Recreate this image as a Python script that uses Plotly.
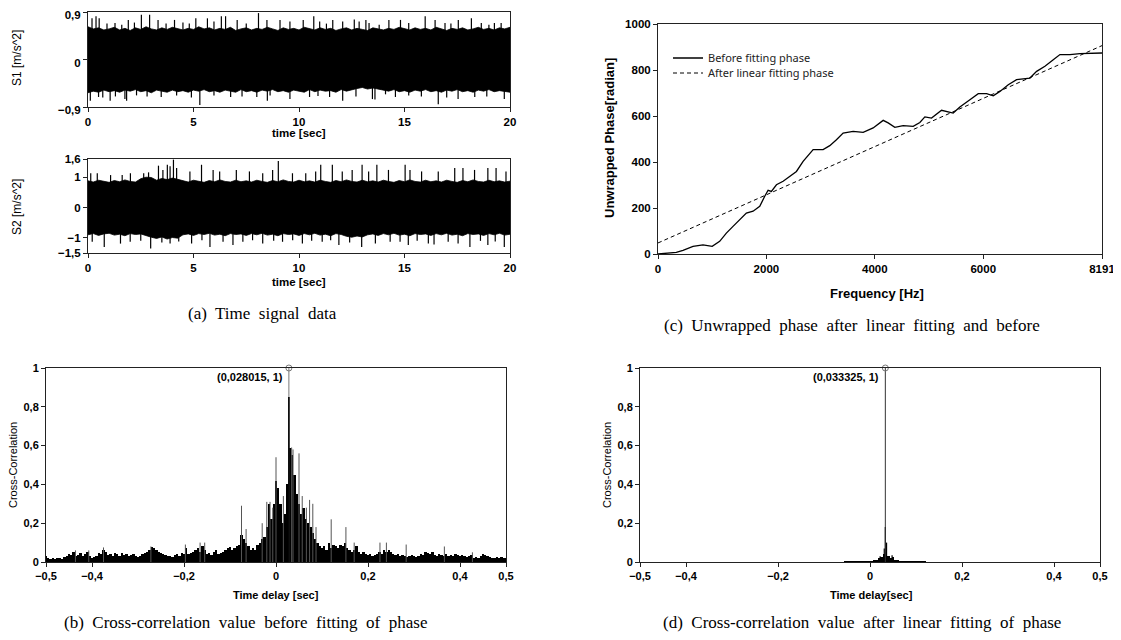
import numpy as np
import plotly.graph_objects as go

# ---------------- data ----------------
# (a) time signals: envelope sampled every 0.25 s plus individual peaks
sig_t = [i * 0.25 for i in range(81)]
s1_upper = [0.62,0.58,0.60,0.56,0.58,0.61,0.56,0.59,0.55,0.60,0.57,0.62,0.58,0.56,0.60,0.57,0.61,0.58,0.56,0.59,
            0.57,0.62,0.58,0.60,0.56,0.59,0.57,0.61,0.55,0.58,0.60,0.56,0.59,0.57,0.61,0.58,0.55,0.60,0.57,0.59,
            0.56,0.61,0.58,0.56,0.60,0.57,0.59,0.55,0.58,0.60,0.56,0.59,0.57,0.55,0.60,0.58,0.56,0.59,0.57,0.61,
            0.58,0.56,0.60,0.57,0.59,0.56,0.61,0.58,0.55,0.59,0.57,0.60,0.56,0.58,0.61,0.57,0.59,0.56,0.60,0.58,0.61]
s1_lower = [-0.63,-0.60,-0.62,-0.58,-0.61,-0.59,-0.62,-0.58,-0.60,-0.57,-0.61,-0.59,-0.63,-0.58,-0.60,-0.62,-0.58,-0.61,-0.59,-0.62,
            -0.58,-0.60,-0.57,-0.61,-0.59,-0.62,-0.58,-0.60,-0.62,-0.57,-0.61,-0.59,-0.62,-0.58,-0.60,-0.57,-0.61,-0.59,-0.62,-0.58,
            -0.60,-0.62,-0.57,-0.61,-0.58,-0.60,-0.59,-0.62,-0.57,-0.60,-0.57,-0.55,-0.53,-0.56,-0.54,-0.57,-0.58,-0.60,-0.57,-0.61,
            -0.59,-0.62,-0.58,-0.60,-0.57,-0.61,-0.59,-0.62,-0.58,-0.60,-0.57,-0.61,-0.59,-0.62,-0.58,-0.60,-0.57,-0.61,-0.59,-0.60,-0.62]
s1_peak_up_t = [0.19,0.38,0.53,0.9,1.28,1.6,1.91,2.2,2.53,2.92,3.32,3.7,4.10,4.5,4.8,5.11,5.66,5.97,6.32,6.52,7.07,7.5,8.08,8.48,9.10,
                9.57,10.2,10.7,10.98,11.3,11.6,12.07,12.62,12.85,13.17,13.32,13.8,14.26,14.81,15.2,15.98,16.45,16.92,17.2,17.55,18.17,18.64,19.0,19.26,19.58]
s1_peak_up_v = [0.78,0.82,0.78,0.68,0.69,0.66,0.75,0.70,0.85,0.85,0.75,0.68,0.75,0.70,0.68,0.78,0.78,0.72,0.82,0.82,0.75,0.68,0.88,0.75,0.75,
                0.72,0.75,0.82,0.72,0.68,0.75,0.72,0.76,0.72,0.75,0.69,0.66,0.75,0.75,0.69,0.82,0.75,0.69,0.68,0.75,0.78,0.69,0.66,0.69,0.69]
s1_peak_lo_t = [0.11,0.5,0.7,1.05,1.3,1.75,1.83,2.3,2.8,3.47,4.2,4.9,5.3,5.97,6.76,7.3,8.0,8.5,8.63,9.57,10.5,10.9,11.45,12.07,12.7,
                13.48,13.6,14.1,14.57,15.2,15.8,16.6,17.0,17.54,18.33,18.9,19.73]
s1_peak_lo_v = [-0.78,-0.71,-0.72,-0.78,-0.70,-0.75,-0.78,-0.68,-0.70,-0.71,-0.68,-0.72,-0.86,-0.68,-0.71,-0.70,-0.71,-0.78,-0.68,-0.75,-0.71,-0.69,-0.71,-0.78,-0.70,
                -0.75,-0.76,-0.66,-0.71,-0.68,-0.70,-0.85,-0.72,-0.75,-0.71,-0.70,-0.75]

s2_upper = [0.88,0.84,0.90,0.86,0.83,0.89,0.85,0.91,0.86,0.84,0.95,1.00,0.99,0.90,0.96,0.92,0.97,0.93,0.88,0.84,
            0.90,0.86,0.83,0.89,0.85,0.91,0.86,0.84,0.90,0.85,0.88,0.84,0.90,0.86,0.83,0.89,0.85,0.91,0.86,0.84,
            0.90,0.85,0.88,0.84,0.90,0.86,0.83,0.89,0.85,0.91,0.86,0.84,0.90,0.85,0.88,0.84,0.90,0.86,0.83,0.89,
            0.85,0.91,0.86,0.84,0.90,0.85,0.88,0.84,0.90,0.86,0.83,0.89,0.85,0.91,0.86,0.84,0.90,0.85,0.88,0.84,0.87]
s2_lower = [-0.90,-0.86,-0.92,-0.87,-0.85,-0.91,-0.88,-0.93,-0.86,-0.89,-0.87,-0.92,-0.98,-1.02,-0.97,-1.04,-0.99,-1.01,-0.90,-0.87,
            -0.92,-0.86,-0.89,-0.85,-0.91,-0.88,-0.93,-0.86,-0.89,-0.87,-0.92,-0.86,-0.90,-0.85,-0.91,-0.88,-0.93,-0.86,-0.89,-0.87,
            -0.92,-0.86,-0.90,-0.85,-0.91,-0.88,-0.93,-0.86,-0.89,-0.95,-0.98,-0.94,-0.97,-0.90,-0.87,-0.92,-0.86,-0.90,-0.85,-0.91,
            -0.88,-0.93,-0.86,-0.89,-0.87,-0.92,-0.86,-0.90,-0.85,-0.91,-0.88,-0.93,-0.86,-0.89,-0.87,-0.92,-0.86,-0.90,-0.85,-0.91,-0.88]
s2_peak_up_t = [0.13,0.44,1.07,1.62,2.01,2.64,2.87,3.34,3.55,3.76,3.89,4.05,4.2,4.83,5.38,5.93,6.24,7.03,7.65,8.28,8.75,9.02,9.69,10.32,
                10.79,11.03,11.58,12.05,12.52,12.99,13.3,13.69,14.24,15.03,15.26,15.81,16.6,17.38,17.77,18.32,18.95,19.34,19.81]
s2_peak_up_v = [1.13,1.13,1.07,1.07,1.13,1.13,1.16,1.38,1.24,1.41,1.36,1.58,1.30,1.19,1.41,1.24,1.19,1.24,1.19,1.13,1.24,1.53,1.13,1.13,
                1.19,1.41,1.41,1.19,1.24,1.41,1.19,1.41,1.24,1.41,1.24,1.19,1.19,1.30,1.30,1.24,1.30,1.30,1.19]
s2_peak_lo_t = [0.2,0.77,1.54,2.0,2.5,2.97,3.5,3.89,4.3,4.91,5.4,5.78,6.4,6.87,7.34,7.8,8.28,8.8,9.22,9.7,10.16,10.6,11.1,11.5,11.89,
                12.4,12.97,13.62,14.32,14.79,15.18,15.6,16.13,16.4,17.07,17.54,18.1,18.6,18.95,19.3,19.73]
s2_peak_lo_v = [-1.13,-1.30,-1.19,-1.13,-1.10,-1.35,-1.15,-1.19,-1.12,-1.19,-1.08,-1.30,-1.13,-1.24,-1.13,-1.08,-1.19,-1.10,-1.13,-1.08,-1.19,-1.10,-1.13,-1.08,-1.24,
                -1.15,-1.30,-1.19,-1.13,-1.13,-1.24,-1.10,-1.19,-1.22,-1.13,-1.19,-1.30,-1.10,-1.24,-1.12,-1.30]

# (c) unwrapped phase
freq = [0,338,461,646,830,1000,1138,1261,1384,1507,1630,1754,1877,1969,2031,2092,2185,2308,2431,2554,2677,2800,2862,3046,3169,
        3292,3415,3600,3785,3969,4092,4154,4246,4369,4523,4708,4831,4923,5046,5231,5446,5569,5754,5908,6062,6185,6308,6462,6615,
        6738,6862,6985,7138,7292,7415,7600,7785,8191]
phase_before = [0,7,16,33,40,33,55,91,120,149,178,186,207,251,277,272,301,316,338,359,403,439,454,454,471,
                497,526,533,529,548,570,581,570,551,558,555,572,596,591,625,613,639,671,697,697,688,707,736,758,
                761,765,794,816,845,867,867,871,874]
fit_freq = [0, 8191]
phase_fit = [48, 906]

# (b) cross-correlation before fitting (every 0.005 s from -0.5 to 0.5)
cc_before = [0.03,0.02,0.015,0.02,0.015,0.02,0.02,0.015,0.025,0.03,0.04,0.035,0.05,0.03,0.035,0.045,0.03,0.04,0.05,0.03,0.02,
             0.025,0.03,0.045,0.04,0.06,0.05,0.035,0.04,0.03,0.045,0.04,0.03,0.045,0.035,0.04,0.03,0.035,0.04,0.03,0.025,
             0.03,0.04,0.045,0.05,0.06,0.075,0.07,0.06,0.05,0.045,0.04,0.035,0.03,0.03,0.025,0.035,0.04,0.03,0.045,0.04,
             0.07,0.04,0.045,0.05,0.06,0.07,0.05,0.08,0.06,0.04,0.045,0.035,0.05,0.06,0.04,0.045,0.05,0.06,0.07,0.075,
             0.06,0.07,0.08,0.09,0.14,0.12,0.10,0.08,0.06,0.07,0.06,0.09,0.10,0.12,0.13,0.18,0.30,0.22,0.30,0.42,
             0.38,0.30,0.20,0.25,0.40,0.59,0.55,0.45,0.35,0.30,0.25,0.28,0.22,0.20,0.18,0.15,0.12,0.10,0.08,0.07,
             0.08,0.06,0.10,0.07,0.09,0.08,0.07,0.09,0.08,0.10,0.07,0.06,0.05,0.06,0.08,0.05,0.04,0.05,0.04,0.035,
             0.04,0.03,0.035,0.04,0.05,0.04,0.06,0.05,0.06,0.05,0.04,0.035,0.04,0.03,0.035,0.03,0.025,0.03,0.035,0.03,
             0.025,0.03,0.04,0.035,0.05,0.045,0.04,0.05,0.035,0.03,0.04,0.035,0.03,0.04,0.03,0.035,0.03,0.04,0.035,0.03,
             0.035,0.03,0.025,0.03,0.035,0.02,0.025,0.02,0.03,0.04,0.035,0.03,0.025,0.02,0.02,0.025,0.02,0.025,0.02,0.02]
cc_before_lag = np.round(np.linspace(-0.5, 0.5, len(cc_before)), 3)
cc_before_spike_lag = [-0.436,-0.407,-0.375,-0.272,-0.197,-0.165,-0.155,-0.075,-0.065,-0.03,-0.02,-0.013,-0.007,0.0,0.016,
                       0.034,0.037,0.05,0.057,0.066,0.073,0.08,0.087,0.12,0.152,0.17,0.226,0.24,0.283,0.366,0.427]
cc_before_spike_val = [0.06,0.06,0.075,0.08,0.09,0.1,0.1,0.29,0.17,0.2,0.31,0.31,0.28,0.54,0.34,
                       0.59,0.58,0.56,0.34,0.28,0.32,0.3,0.18,0.22,0.18,0.1,0.1,0.1,0.09,0.08,0.05]
peak_before = (0.028015, 1.0)
peak_before_bar = 0.85

# (d) cross-correlation after fitting (every 0.005 s from -0.06 to 0.125; zero elsewhere)
cc_after = [0,0.003,0.003,0.002,0.004,0.003,0.002,0.003,0.004,0.003,0.002,0.004,0.003,0.004,0.006,0.012,0.02,0.025,0.04,
            0.05,0.03,0.02,0.025,0.012,0.006,0.004,0.003,0.004,0.005,0.004,0.003,0.004,0.003,0.004,0.003,0.003,0.002,0]
cc_after_lag = np.round(np.linspace(-0.06, 0.125, len(cc_after)), 3)
cc_after_spike_lag = [0.0333, 0.031, 0.036, 0.048, 0.022]
cc_after_spike_val = [0.18, 0.07, 0.10, 0.035, 0.03]
peak_after = (0.033325, 1.0)

# ---------------- figure ----------------
# the page places the figure 8 px from the top-left corner (default body margin)
OFF = 8
W, H = 1121 - OFF, 640 - OFF
fig = go.Figure()


def segs(xs, ys, base=0.0):
    X, Y = [], []
    for x, y in zip(xs, ys):
        X += [x, x, None]
        Y += [base, y, None]
    return X, Y


def envelope(xa, ya, t, up, lo, pu_t, pu_v, pl_t, pl_v):
    fig.add_trace(go.Scatter(x=list(t) + list(t[::-1]), y=list(up) + list(lo[::-1]), fill='toself',
                             fillcolor='black', mode='lines', line=dict(color='black', width=0.8),
                             xaxis=xa, yaxis=ya, showlegend=False, hoverinfo='skip'))
    X, Y = segs(pu_t + pl_t, pu_v + pl_v)
    fig.add_trace(go.Scatter(x=X, y=Y, mode='lines', line=dict(color='black', width=1.2),
                             xaxis=xa, yaxis=ya, showlegend=False, hoverinfo='skip'))


envelope('x', 'y', sig_t, s1_upper, s1_lower, s1_peak_up_t, s1_peak_up_v, s1_peak_lo_t, s1_peak_lo_v)
envelope('x2', 'y2', sig_t, s2_upper, s2_lower, s2_peak_up_t, s2_peak_up_v, s2_peak_lo_t, s2_peak_lo_v)

# (c)
fig.add_trace(go.Scatter(x=freq, y=phase_before, mode='lines', line=dict(color='black', width=1.3),
                         name='Before fitting phase', xaxis='x3', yaxis='y3', legend='legend'))
fig.add_trace(go.Scatter(x=fit_freq, y=phase_fit, mode='lines', line=dict(color='black', width=1, dash='4px,3px'),
                         name='After linear fitting phase', xaxis='x3', yaxis='y3', legend='legend2'))

# (b)
fig.add_trace(go.Bar(x=cc_before_lag, y=cc_before, width=0.005, marker=dict(color='black', line=dict(width=0)),
                     xaxis='x4', yaxis='y4', showlegend=False, hoverinfo='skip'))
X, Y = segs(cc_before_spike_lag, cc_before_spike_val)
fig.add_trace(go.Scatter(x=X, y=Y, mode='lines', line=dict(color='#555', width=1),
                         xaxis='x4', yaxis='y4', showlegend=False, hoverinfo='skip'))
X, Y = segs([peak_before[0]], [peak_before[1]])
fig.add_trace(go.Scatter(x=X, y=Y, mode='lines', line=dict(color='#777', width=1),
                         xaxis='x4', yaxis='y4', showlegend=False, hoverinfo='skip'))
X, Y = segs([peak_before[0]], [peak_before_bar])
fig.add_trace(go.Scatter(x=X, y=Y, mode='lines', line=dict(color='black', width=1.6),
                         xaxis='x4', yaxis='y4', showlegend=False, hoverinfo='skip'))
fig.add_trace(go.Scatter(x=[peak_before[0]], y=[peak_before[1]], mode='markers', cliponaxis=False,
                         marker=dict(symbol='circle-open', size=6, color='#777', line=dict(width=1)),
                         xaxis='x4', yaxis='y4', showlegend=False, hoverinfo='skip'))

# (d)
fig.add_trace(go.Bar(x=cc_after_lag, y=cc_after, width=0.005, marker=dict(color='black', line=dict(width=0)),
                     xaxis='x5', yaxis='y5', showlegend=False, hoverinfo='skip'))
X, Y = segs(cc_after_spike_lag, cc_after_spike_val)
fig.add_trace(go.Scatter(x=X, y=Y, mode='lines', line=dict(color='black', width=1.2),
                         xaxis='x5', yaxis='y5', showlegend=False, hoverinfo='skip'))
X, Y = segs([peak_after[0]], [peak_after[1]])
fig.add_trace(go.Scatter(x=X, y=Y, mode='lines', line=dict(color='#333', width=1),
                         xaxis='x5', yaxis='y5', showlegend=False, hoverinfo='skip'))
fig.add_trace(go.Scatter(x=[peak_after[0]], y=[peak_after[1]], mode='markers', cliponaxis=False,
                         marker=dict(symbol='circle-open', size=6, color='#777', line=dict(width=1)),
                         xaxis='x5', yaxis='y5', showlegend=False, hoverinfo='skip'))


def fmt(v):
    s = ('%g' % v).replace('.', ',')
    return s.replace('-', '\u2212')


TICKFONT = dict(family='Liberation Sans', size=11.5, color='black', weight='bold')
SMALL = dict(family='Liberation Sans', size=11, color='black', weight='bold')


def axis(domain, rng, tickvals, anchor=None, font=TICKFONT, shift=0):
    return dict(domain=domain, range=rng, anchor=anchor, showline=True, linecolor='#222', linewidth=1,
                mirror=True, ticks='outside', ticklen=4, tickwidth=1, tickcolor='#222', showgrid=False,
                zeroline=False, tickvals=tickvals, ticktext=[fmt(v) for v in tickvals],
                tickfont=font, fixedrange=True, automargin=False, ticklabeloverflow='allow',
                ticklabelshift=shift)


def px(x):
    return (x - OFF) / W


def py(y):
    return 1 - (y - OFF) / H


def xd(a, b):
    return [px(a), px(b)]


def yd(top, bot):
    return [py(bot), py(top)]


LEGFONT = dict(family='Noto Sans', size=11, color='#222')

fig.update_layout(
    width=W, height=H, margin=dict(l=0, r=0, t=0, b=0, pad=0, autoexpand=False),
    paper_bgcolor='white', plot_bgcolor='white', barmode='overlay', bargap=0,
    xaxis=axis(xd(88, 510), [0, 20], [0, 5, 10, 15, 20], anchor='y'),
    yaxis=axis(yd(12, 107), [-0.9, 0.9], [-0.9, 0, 0.9], anchor='x', shift=3),
    xaxis2=axis(xd(88, 510), [0, 20], [0, 5, 10, 15, 20], anchor='y2'),
    yaxis2=axis(yd(159, 253), [-1.5, 1.6], [-1.5, -1, 0, 1, 1.6], anchor='x2'),
    xaxis3=axis(xd(658, 1102), [0, 8191], [0, 2000, 4000, 6000, 8191], anchor='y3'),
    yaxis3=axis(yd(24, 254), [0, 1000], [0, 200, 400, 600, 800, 1000], anchor='x3'),
    xaxis4=axis(xd(46, 506), [-0.5, 0.5], [-0.5, -0.4, -0.2, 0, 0.2, 0.4, 0.5], anchor='y4', font=SMALL),
    yaxis4=axis(yd(368, 562), [0, 1], [0, 0.2, 0.4, 0.6, 0.8, 1], anchor='x4', font=SMALL),
    xaxis5=axis(xd(640, 1100), [-0.5, 0.5], [-0.5, -0.4, -0.2, 0, 0.2, 0.4, 0.5], anchor='y5', font=SMALL),
    yaxis5=axis(yd(368, 562), [0, 1], [0, 0.2, 0.4, 0.6, 0.8, 1], anchor='x5', font=SMALL),
    legend=dict(x=px(668), y=py(58), xanchor='left', yanchor='middle', bgcolor='rgba(0,0,0,0)',
                font=LEGFONT, itemwidth=30),
    legend2=dict(x=px(668), y=py(73), xanchor='left', yanchor='middle', bgcolor='rgba(0,0,0,0)',
                 font=LEGFONT, itemwidth=30),
    showlegend=True,
)


def label(text, x, y, size=12, angle=0, weight='bold', family='Liberation Sans', color='black'):
    fig.add_annotation(text=text, x=px(x), y=py(y), xref='paper', yref='paper', showarrow=False,
                       textangle=angle, xanchor='center', yanchor='middle',
                       font=dict(family=family, size=size, weight=weight, color=color))


label('S1 [m/s^2]', 17, 58, size=12, angle=-90, weight='normal')
label('S2 [m/s^2]', 17, 207, size=12, angle=-90, weight='normal')
label('time [sec]', 299, 133, size=11.5)
label('time [sec]', 299, 282, size=11.5)
label('Unwrapped Phase[radian]', 609, 138, size=13, angle=-90)
label('Frequency [Hz]', 877, 293, size=13)
label('Cross-Correlation', 13, 465, size=11, angle=-90, weight='normal')
label('Cross-Correlation', 607, 465, size=11, angle=-90, weight='normal')
label('Time delay [sec]', 276, 595, size=11)
label('Time delay[sec]', 871, 595, size=11)

SERIF = 'Liberation Serif'
label('(a)  Time  signal  data', 262, 313, size=17, weight='normal', family=SERIF)
label('(c)  Unwrapped  phase  after  linear  fitting  and  before', 852, 325, size=17, weight='normal', family=SERIF)
label('(b)  Cross-correlation  value  before  fitting  of  phase', 246, 622, size=17, weight='normal', family=SERIF)
label('(d)  Cross-correlation  value  after  linear  fitting  of  phase', 862, 622, size=17, weight='normal', family=SERIF)

# peak annotations
fig.add_annotation(text='(%s, %g)' % (str(peak_before[0]).replace('.', ','), peak_before[1]),
                   x=peak_before[0], y=0.955, xref='x4', yref='y4', xanchor='right', yanchor='middle',
                   xshift=-4, showarrow=False, font=SMALL)
fig.add_annotation(text='(%s, %g)' % (str(peak_after[0]).replace('.', ','), peak_after[1]),
                   x=peak_after[0], y=0.955, xref='x5', yref='y5', xanchor='right', yanchor='middle',
                   xshift=-4, showarrow=False, font=SMALL)

fig.write_html('out.html')
